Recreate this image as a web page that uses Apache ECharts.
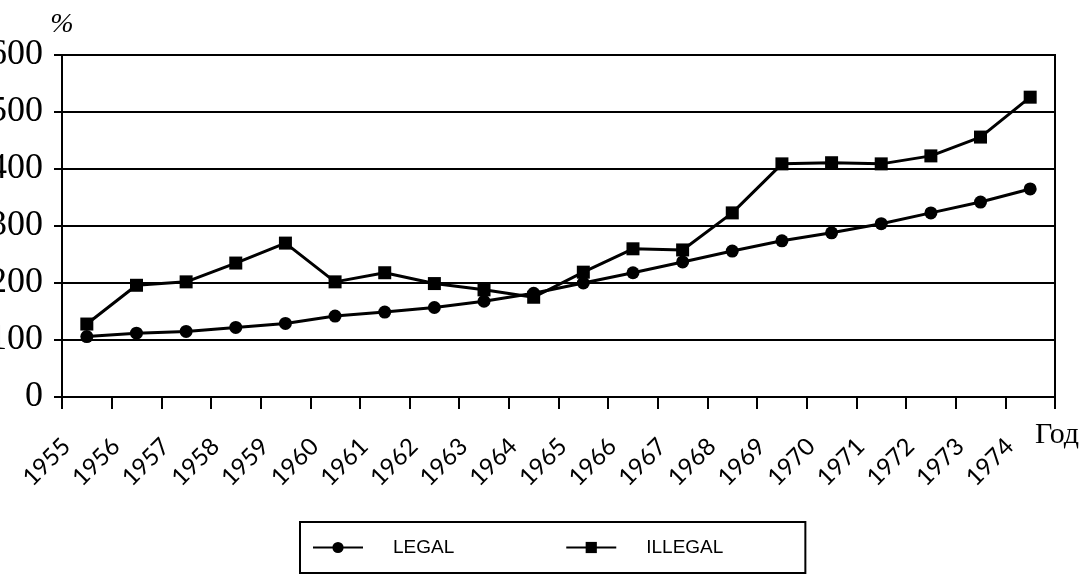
<!DOCTYPE html>
<html>
<head>
<meta charset="utf-8">
<script src="https://cdn.jsdelivr.net/npm/echarts@6/dist/echarts.min.js"></script>
<style>html,body{margin:0;padding:0;background:#fff;}#c{width:1088px;height:574px;}</style>
</head>
<body>
<div id="c"></div>
<script>
const years = ['1955','1956','1957','1958','1959','1960','1961','1962','1963','1964','1965','1966','1967','1968','1969','1970','1971','1972','1973','1974'];
const legal = [106, 112, 115, 122, 129, 142, 149, 157, 168, 182, 200, 218, 237, 256, 274, 288, 304, 323, 342, 365];
const illegal = [128, 196, 202, 235, 270, 202, 218, 199, 188, 175, 219, 260, 258, 323, 409, 411, 409, 423, 456, 526];
const yTicks = {min: 0, max: 600, interval: 100};

const chart = echarts.init(document.getElementById('c'));
const lineStyle = {color: '#000', width: 3};
chart.setOption({
  animation: false,
  backgroundColor: '#fff',
  grid: {left: 62, right: 33, top: 55, bottom: 177, show: true, borderColor: '#000', borderWidth: 2,
         containLabel: false, outerBoundsMode: 'none'},
  legend: {
    left: 300, top: 522,
    padding: [16, 82, 16, 12],
    borderColor: '#000', borderWidth: 2,
    itemWidth: 50, itemHeight: 14, itemGap: 111,
    textStyle: {fontFamily: 'Liberation Sans', fontSize: 19, color: '#000', padding: [0, 0, 0, 25]},
    data: ['LEGAL', 'ILLEGAL']
  },
  xAxis: {
    type: 'category', data: years, boundaryGap: true,
    name: 'Год', nameLocation: 'end', nameGap: -20,
    nameTextStyle: {fontFamily: 'Liberation Serif', fontSize: 30, color: '#000', verticalAlign: 'top', align: 'left', padding: [23, 0, 0, 0]},
    axisLine: {lineStyle: {color: '#000', width: 2}},
    axisTick: {show: true, length: 12, lineStyle: {color: '#000', width: 2}},
    axisLabel: {interval: 0, rotate: 45, fontFamily: 'Lato', fontSize: 24, color: '#000', margin: 25, padding: [0, 29, 0, 0]}
  },
  yAxis: {
    type: 'value', min: yTicks.min, max: yTicks.max, interval: yTicks.interval,
    name: '%', nameLocation: 'end', nameGap: 16,
    nameTextStyle: {fontFamily: 'Liberation Serif', fontStyle: 'italic', fontSize: 28, color: '#000', align: 'center'},
    axisLine: {show: true, lineStyle: {color: '#000', width: 2}},
    axisTick: {show: true, length: 8, lineStyle: {color: '#000', width: 2}},
    splitLine: {lineStyle: {color: '#000', width: 2}},
    axisLabel: {fontFamily: 'Liberation Serif', fontSize: 36, color: '#000', margin: 19}
  },
  series: [
    {name: 'LEGAL', type: 'line', data: legal, symbol: 'circle', symbolSize: 13,
     itemStyle: {color: '#000'}, lineStyle: lineStyle},
    {name: 'ILLEGAL', type: 'line', data: illegal, symbol: 'rect', symbolSize: 13,
     itemStyle: {color: '#000'}, lineStyle: lineStyle}
  ]
});
</script>
</body>
</html>
